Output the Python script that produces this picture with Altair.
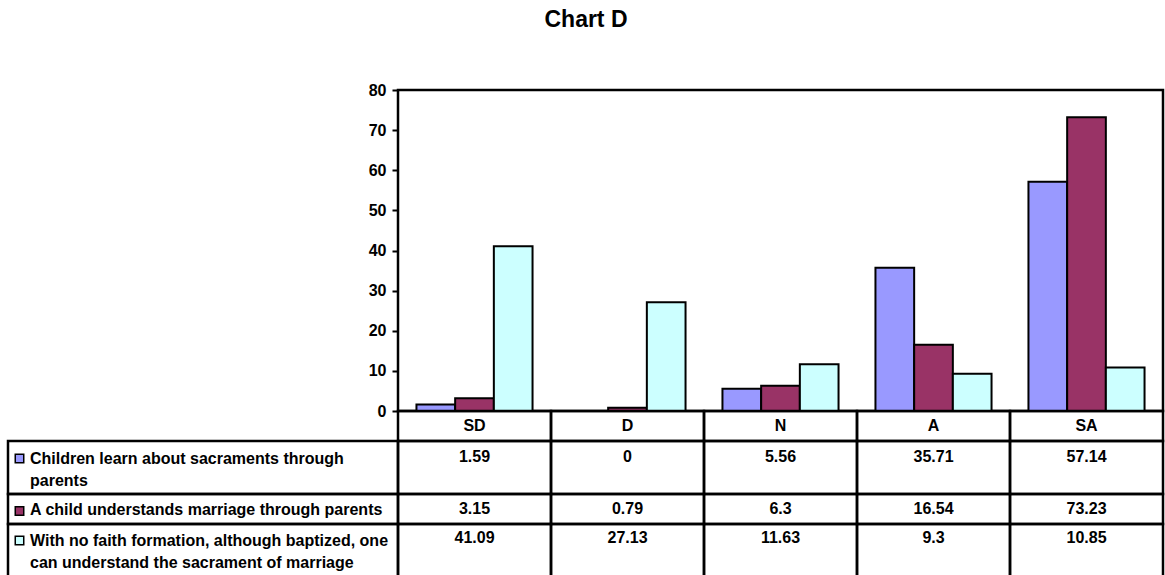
import altair as alt
import pandas as pd

# ---- data -------------------------------------------------------------
categories = ["SD", "D", "N", "A", "SA"]
series_names = [
    "Children learn about sacraments through parents",
    "A child understands marriage through parents",
    "With no faith formation, although baptized, one can understand the sacrament of marriage",
]
# wrapped versions used in the data-table row headers
series_labels = [
    "Children learn about sacraments through\nparents",
    "A child understands marriage through parents",
    "With no faith formation, although baptized, one\ncan understand the sacrament of marriage",
]
learn_values = [1.59, 0, 5.56, 35.71, 57.14]
understand_values = [3.15, 0.79, 6.3, 16.54, 73.23]
no_formation_values = [41.09, 27.13, 11.63, 9.3, 10.85]
series_values = [learn_values, understand_values, no_formation_values]
series_colors = ["#9999FF", "#993366", "#CCFFFF"]
y_ticks = [0, 10, 20, 30, 40, 50, 60, 70, 80]

records = []
for name, vals in zip(series_names, series_values):
    for cat, v in zip(categories, vals):
        records.append({"category": cat, "series": name, "value": v})
long_df = pd.DataFrame(records)
cat_df = pd.DataFrame({"category": categories})
row_df = pd.DataFrame({"series": series_names, "label": series_labels})

# ---- layout (pixels, relative to the plot area) -----------------------
FONT = "Liberation Sans"
PLOT_W, PLOT_H = 765, 321
TABLE_LEFT = -390
HEADER_TOP, HEADER_BOTTOM = 321, 351
row_tops = [351, 404, 434]
row_bottoms = [404, 434, 488]
value_y = [367, 419, 448]
label_y = [369, 420, 451]      # centre of the first text line in each row
swatch_y = [368.5, 421, 450.5]
LINE_W = 2.5

x_scale = alt.Scale(domain=categories, paddingInner=0, paddingOuter=0)
x_enc = alt.X("category:N", scale=x_scale, axis=None)
color_enc = alt.Color(
    "series:N",
    scale=alt.Scale(domain=series_names, range=series_colors),
    legend=None,
)

bars = (
    alt.Chart(long_df)
    .mark_bar(stroke="black", strokeWidth=2)
    .encode(
        x=x_enc,
        xOffset=alt.XOffset(
            "series:N",
            scale=alt.Scale(domain=series_names, paddingInner=0, paddingOuter=0.477),
        ),
        y=alt.Y(
            "value:Q",
            scale=alt.Scale(domain=[0, 80], nice=False),
            axis=alt.Axis(
                values=y_ticks,
                title=None,
                domain=False,
                grid=False,
                tickSize=6,
                tickWidth=2,
                tickColor="black",
                labelFont=FONT,
                labelFontSize=16,
                labelFontWeight="bold",
                labelColor="black",
                labelPadding=6,
            ),
        ),
        color=color_enc,
    )
)

cell_style = dict(fill="white", fillOpacity=0, stroke="black", strokeWidth=LINE_W)
text_style = dict(font=FONT, fontSize=16, fontWeight="bold", color="black")

# header row of the data table: category names
header_cells = (
    alt.Chart(cat_df)
    .mark_rect(**cell_style)
    .encode(x=x_enc, y=alt.value(HEADER_TOP), y2=alt.value(HEADER_BOTTOM))
)
header_text = (
    alt.Chart(cat_df)
    .mark_text(baseline="middle", align="center", **text_style)
    .encode(x=x_enc, y=alt.value(336), text="category:N")
)

layers = [bars, header_cells, header_text]

for i, name in enumerate(series_names):
    sel = alt.datum.series == name
    cells = (
        alt.Chart(long_df)
        .transform_filter(sel)
        .mark_rect(**cell_style)
        .encode(x=x_enc, y=alt.value(row_tops[i]), y2=alt.value(row_bottoms[i]))
    )
    values = (
        alt.Chart(long_df)
        .transform_filter(sel)
        .mark_text(baseline="middle", align="center", **text_style)
        .encode(x=x_enc, y=alt.value(value_y[i]), text="value:N")
    )
    label_cell = (
        alt.Chart(row_df)
        .transform_filter(sel)
        .mark_rect(**cell_style)
        .encode(
            x=alt.value(TABLE_LEFT),
            x2=alt.value(0),
            y=alt.value(row_tops[i]),
            y2=alt.value(row_bottoms[i]),
        )
    )
    swatch = (
        alt.Chart(row_df)
        .transform_filter(sel)
        .mark_square(size=72, opacity=1, stroke="black", strokeWidth=1.5)
        .encode(x=alt.value(-378.5), y=alt.value(swatch_y[i]), color=color_enc)
    )
    label_text = (
        alt.Chart(row_df)
        .transform_filter(sel)
        .mark_text(
            align="left", baseline="middle", lineBreak="\n", lineHeight=22, **text_style
        )
        .encode(x=alt.value(-368), y=alt.value(label_y[i]), text="label:N")
    )
    layers += [cells, values, label_cell, swatch, label_text]

chart = (
    alt.layer(*layers)
    .properties(
        width=PLOT_W,
        height=PLOT_H,
        padding={"left": 398, "top": 90, "right": 2, "bottom": 164},
        autosize=alt.AutoSizeParams(type="none"),
        title=alt.Title(
            "Chart D",
            font=FONT,
            fontSize=23,
            fontWeight="bold",
            color="black",
            anchor="middle",
            dx=-194.5,
            offset=50,
        ),
        background="white",
    )
    .configure_view(stroke="black", strokeWidth=LINE_W)
)

chart.save("out.html", embed_options={"renderer": "svg", "actions": False})
